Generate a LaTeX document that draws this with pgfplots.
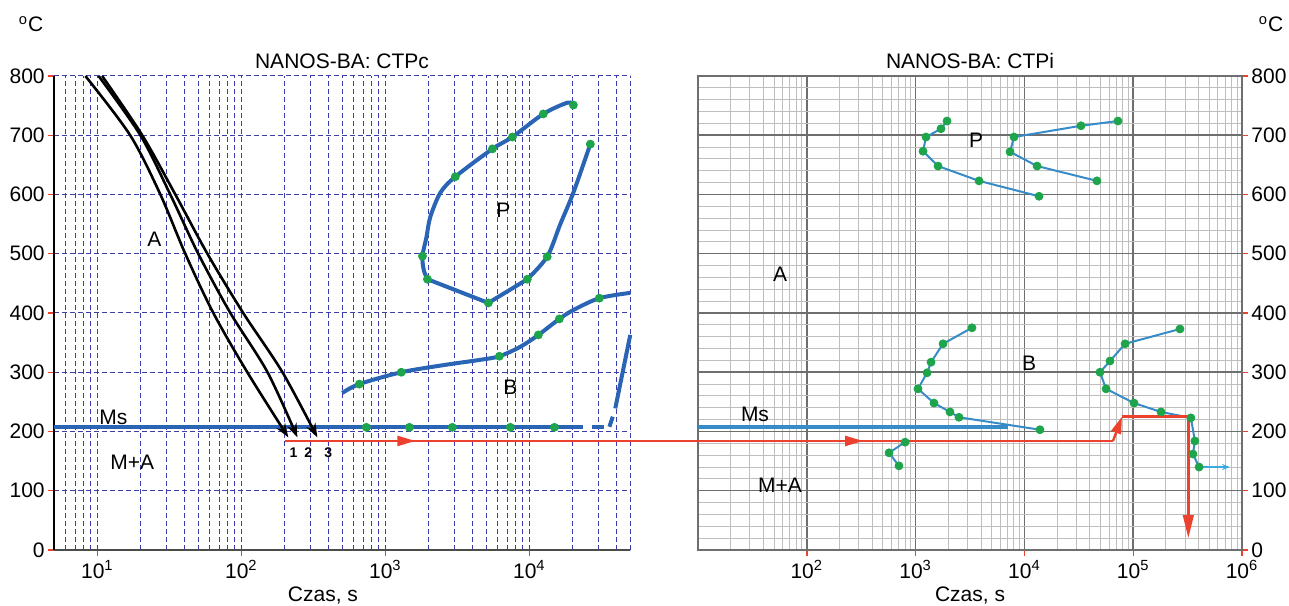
\documentclass[border=0pt]{standalone}
\usepackage{fontspec}
\setmainfont{Liberation Sans}
\usepackage{pgfplots}
\pgfplotsset{compat=1.18}
\usetikzlibrary{arrows.meta}

\definecolor{gridblue}{RGB}{60,60,170}
\definecolor{curveblue}{RGB}{42,100,180}
\definecolor{lineblue}{RGB}{55,140,200}
\definecolor{arrowblue}{RGB}{60,170,225}
\definecolor{dotgreen}{RGB}{30,165,75}
\definecolor{redline}{RGB}{235,65,45}
\definecolor{gridgray}{RGB}{190,190,190}
\definecolor{gridgraydark}{RGB}{110,110,110}

\pgfplotsset{
  gdot/.style={only marks, mark=*, mark size=2pt,
    mark options={draw=dotgreen, fill=dotgreen}},
  panel/.style={
    scale only axis, height=237pt,
    ymin=0, ymax=800, ytick={0,100,...,800},
    /pgf/number format/assume math mode=true,
    tick align=outside,
    tick style={draw=redline, line width=0.7pt},
    major tick length=3pt, minor tick length=0pt,
    xticklabel style={inner sep=2pt},
    yticklabel style={inner sep=1.5pt},
  },
}

\begin{document}
\fontsize{10.5}{12.6}\selectfont
\begin{tikzpicture}
\path[use as bounding box] (0,0) rectangle (644.5pt,302.5pt);

% ---------- CTPc ----------
\begin{semilogxaxis}[panel,
  at={(27pt,27.5pt)}, anchor=south west, width=288pt,
  xmin=5, xmax=50000,
  xtick={10,100,1000,10000},
  xticklabels={10\textsuperscript{1},10\textsuperscript{2},10\textsuperscript{3},10\textsuperscript{4}},
  minor xtick={6,7,8,9,20,30,40,50,60,70,80,90,200,300,400,500,600,700,800,900,
    2000,3000,4000,5000,6000,7000,8000,9000,20000,30000,40000,50000},
  xmajorgrids, xminorgrids, ymajorgrids,
  major grid style={gridblue, line width=0.5pt, dash pattern=on 2.5pt off 1.5pt},
  minor grid style={gridblue, line width=0.5pt, dash pattern=on 2.5pt off 1.5pt},
  axis x line*=bottom, axis y line*=left,
  x axis line style={-, draw=black!70, line width=0.7pt},
  y axis line style={-, draw=black, line width=0.7pt},
  tick align=outside,
  title={NANOS-BA: CTPc},
  every axis title/.style={at={(0.5,1)}, anchor=south, inner sep=3.5pt},
  xlabel={Czas, s},
  every axis x label/.style={at={(axis description cs:0.467,0)}, anchor=base, yshift=-25.5pt},
  clip=false,
]
% Ms
\addplot[curveblue, line width=2pt] coordinates {(5,207) (23700,207)};
\addplot[curveblue, line width=2pt] coordinates {(27400,207) (32900,207)};
\addplot[curveblue, line width=2pt] coordinates {(35950,208) (37950,225)};
\addplot[curveblue, line width=2pt] coordinates {(39500,239) (50200,363)};
\addplot[gdot] coordinates {(738,207) (1468,207) (2917,207) (7380,207) (14930,207)};
% P
\addplot[curveblue, line width=2pt, smooth] coordinates {
  (20200,751) (18400,755) (12500,736) (7620,697) (5540,677) (3060,630)
  (2410,603) (2050,562) (1930,528) (1810,496) (1850,472) (1960,457)};
\addplot[curveblue, line width=2pt, line join=round] coordinates {
  (1960,457) (5190,417) (9680,457)};
\addplot[curveblue, line width=2pt, smooth] coordinates {
  (9680,457) (13300,495) (16400,550) (20200,603) (26500,685)};
\addplot[gdot] coordinates {
  (20200,751) (12500,736) (7620,697) (5540,677) (3060,630) (1810,496)
  (1960,457) (5190,417) (9680,457) (13300,495) (26500,685)};
% B
\addplot[curveblue, line width=2pt, smooth] coordinates {
  (502,265) (659,280) (1290,300) (2530,312) (4570,321) (6190,327) (8660,343)
  (11550,363) (16150,390) (20200,405) (30600,425) (50200,434)};
\addplot[gdot] coordinates {
  (659,280) (1290,300) (6190,327) (11550,363) (16150,390) (30600,425)};
% cooling curves
\addplot[black, line width=1.3pt, smooth, -{Stealth[length=7pt,width=5pt]}] coordinates {
  (8.26,800) (16.9,700) (27.4,600) (40.8,500) (63.9,400) (110,300) (212,190)};
\addplot[black, line width=1.3pt, smooth, -{Stealth[length=7pt,width=5pt]}] coordinates {
  (10.2,800) (19.9,700) (32.1,600) (50.2,500) (83.9,400) (152,300) (245,190)};
\addplot[black, line width=1.3pt, smooth, -{Stealth[length=7pt,width=5pt]}] coordinates {
  (10.8,800) (20.5,700) (34.8,600) (58.1,500) (103,400) (193,300) (337,190)};
% red path
\addplot[redline, line width=1.2pt] coordinates {(202,184) (149000,184)};
\addplot[redline, line width=1.2pt, -{Triangle[length=9pt,width=5pt]}] coordinates {(1000,184) (1616,184)};
% labels
\node at (axis cs:24.9,525) {A};
\node at (axis cs:6590,574) {P};
\node at (axis cs:7380,275) {B};
\node at (axis cs:12.9,223) {Ms};
\node at (axis cs:17.5,148) {M+A};
\node[font=\fontsize{7}{8}\selectfont\bfseries] at (axis cs:230,164) {1};
\node[font=\fontsize{7}{8}\selectfont\bfseries] at (axis cs:292,164) {2};
\node[font=\fontsize{7}{8}\selectfont\bfseries] at (axis cs:402,164) {3};
\end{semilogxaxis}

% ---------- CTPi ----------
\begin{semilogxaxis}[panel,
  at={(349pt,27.5pt)}, anchor=south west, width=272pt,
  xmin=10, xmax=1000000,
  xtick={100,1000,10000,100000,1000000},
  xticklabels={10\textsuperscript{2},10\textsuperscript{3},10\textsuperscript{4},10\textsuperscript{5},10\textsuperscript{6}},
  minor xtick={20,30,40,50,60,70,80,90,200,300,400,500,600,700,800,900,
    2000,3000,4000,5000,6000,7000,8000,9000,20000,30000,40000,50000,60000,70000,80000,90000,
    200000,300000,400000,500000,600000,700000,800000,900000},
  minor y tick num=4,
  xmajorgrids, xminorgrids, ymajorgrids, yminorgrids,
  major grid style={gridgraydark, line width=0.75pt},
  minor grid style={gridgray, line width=0.5pt},
  axis line style={draw=gridgraydark, line width=0.6pt},
  xtick pos=left, ytick pos=right, yticklabel pos=right,
  title={NANOS-BA: CTPi},
  every axis title/.style={at={(0.5,1)}, anchor=south, inner sep=3.5pt},
  xlabel={Czas, s},
  every axis x label/.style={at={(axis description cs:0.5,0)}, anchor=base, yshift=-25.5pt},
]
\addplot[lineblue, line width=2pt] coordinates {(10,207) (7060,207)};
% P
\addplot[lineblue, line width=1pt] coordinates {
  (1945,724) (1711,711) (1247,697) (1170,673) (1607,648) (3828,623) (13620,597)};
\addplot[gdot] coordinates {
  (1945,724) (1711,711) (1247,697) (1170,673) (1607,648) (3828,623) (13620,597)};
\addplot[lineblue, line width=1pt] coordinates {
  (72400,724) (33100,716) (8020,697) (7380,672) (13070,648) (46400,623)};
\addplot[gdot] coordinates {
  (72400,724) (33100,716) (8020,697) (7380,672) (13070,648) (46400,623)};
% B
\addplot[lineblue, line width=1pt] coordinates {
  (3296,375) (1787,348) (1386,317) (1274,299) (1052,272) (1475,248) (2070,233) (2504,224) (13900,203)};
\addplot[gdot] coordinates {
  (3296,375) (1787,348) (1386,317) (1274,299) (1052,272) (1475,248) (2070,233) (2504,224) (13900,203)};
\addplot[lineblue, line width=1pt] coordinates {
  (269000,373) (84200,348) (61200,319) (49500,300) (56300,272) (101700,248)
  (180000,233) (339000,223) (369000,184) (354000,162) (403000,140)};
\addplot[arrowblue, line width=0.7pt, -{Stealth[length=4pt,width=3pt]}] coordinates {(403000,140) (776000,140)};
% M+A
\addplot[lineblue, line width=1pt] coordinates {(800,182) (570,164) (703,142)};
% red path
\addplot[redline, line width=1.2pt] coordinates {(10,184) (65200,184)};
\addplot[redline, line width=1.2pt, -{Triangle[length=9pt,width=5pt]}] coordinates {(200,184) (329,184)};
\addplot[redline, line width=1.2pt, -{Triangle[length=8.5pt,width=5pt]}] coordinates {(65200,184) (78900,225)};
\addplot[redline, line width=1.2pt, -{Triangle[length=11.5pt,width=5.3pt]}] coordinates {(78900,225) (321000,225) (321000,20)};
\addplot[gdot] coordinates {
  (269000,373) (84200,348) (61200,319) (49500,300) (56300,272) (101700,248)
  (180000,233) (339000,223) (369000,184) (354000,162) (403000,140)};
\addplot[gdot] coordinates {(800,182) (570,164) (703,142)};
% labels
\node at (axis cs:56.8,465) {A};
\node at (axis cs:3590,692) {P};
\node at (axis cs:11020,315) {B};
\node at (axis cs:33.4,229) {Ms};
\node at (axis cs:56.8,110) {M+A};
\end{semilogxaxis}

\node[anchor=base] at (15.5pt,286.5pt) {\textsuperscript{o}C};
\node[anchor=base] at (635.5pt,286.5pt) {\textsuperscript{o}C};
\end{tikzpicture}
\end{document}
